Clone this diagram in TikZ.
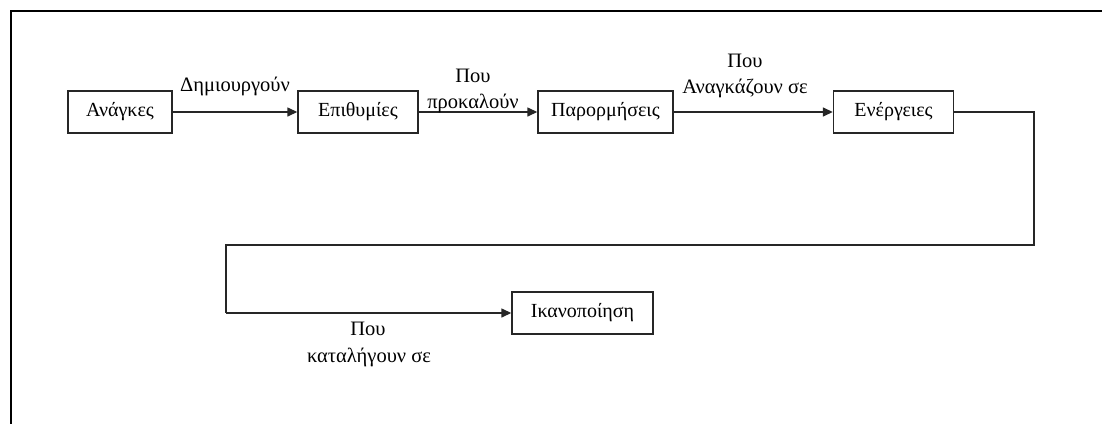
\documentclass[tikz,border=0pt]{standalone}
\usepackage{fontspec}
\setmainfont{Liberation Serif}
\usetikzlibrary{arrows.meta}
\begin{document}
\begin{tikzpicture}[x=1pt,y=-1pt,
  stage/.style={draw=black!85,line width=1.4pt,minimum width=#1,minimum height=42pt,inner sep=0pt,font=\fontsize{20}{24}\selectfont},
  lbl/.style={anchor=base,inner sep=0pt,font=\fontsize{20.5}{24}\selectfont},
  conn/.style={draw=black!85,line width=1.4pt},
  arr/.style={conn,-{Triangle[length=10pt,width=9pt]}}]
\useasboundingbox (0,0) rectangle (1102,423);
\fill[white] (0,0) rectangle (1102,423);
\draw[line width=2.2pt] (11,440) -- (11,11) -- (1120,11);
% boxes
\node[stage=104pt] (anag) at (120,112) {Ανάγκες};
\node[stage=120pt] (epith) at (358,112) {Επιθυμίες};
\node[stage=135pt] (paror) at (605.5,112) {Παρορμήσεις};
\node[stage=120pt] (energ) at (893.5,112) {Ενέργειες};
\node[stage=141pt] (ikan) at (582.5,313) {Ικανοποίηση};
% turning points
\coordinate (r1) at (1034,112);
\coordinate (r2) at (1034,245);
\coordinate (l1) at (226,245);
\coordinate (l2) at (226,313);
% connectors
\draw[arr] (anag) -- (epith);
\draw[arr] (epith) -- (paror);
\draw[arr] (paror) -- (energ);
\draw[conn] (energ.east) -- (r1) -- (r2) -- (l1) -- (l2);
\draw[arr] (l2) -- (ikan.west);
% labels
\node[lbl] (t1) at (235,91) {Δημιουργούν};
\node[lbl] (t2a) at (473,82) {Που};
\node[lbl] (t2b) at (473,108) {προκαλούν};
\node[lbl] (t3a) at (745,67) {Που};
\node[lbl] (t3b) at (745,93) {Αναγκάζουν σε};
\node[lbl] (t4a) at (368,335) {Που};
\node[lbl] (t4b) at (369,362) {καταλήγουν σε};
\end{tikzpicture}
\end{document}
